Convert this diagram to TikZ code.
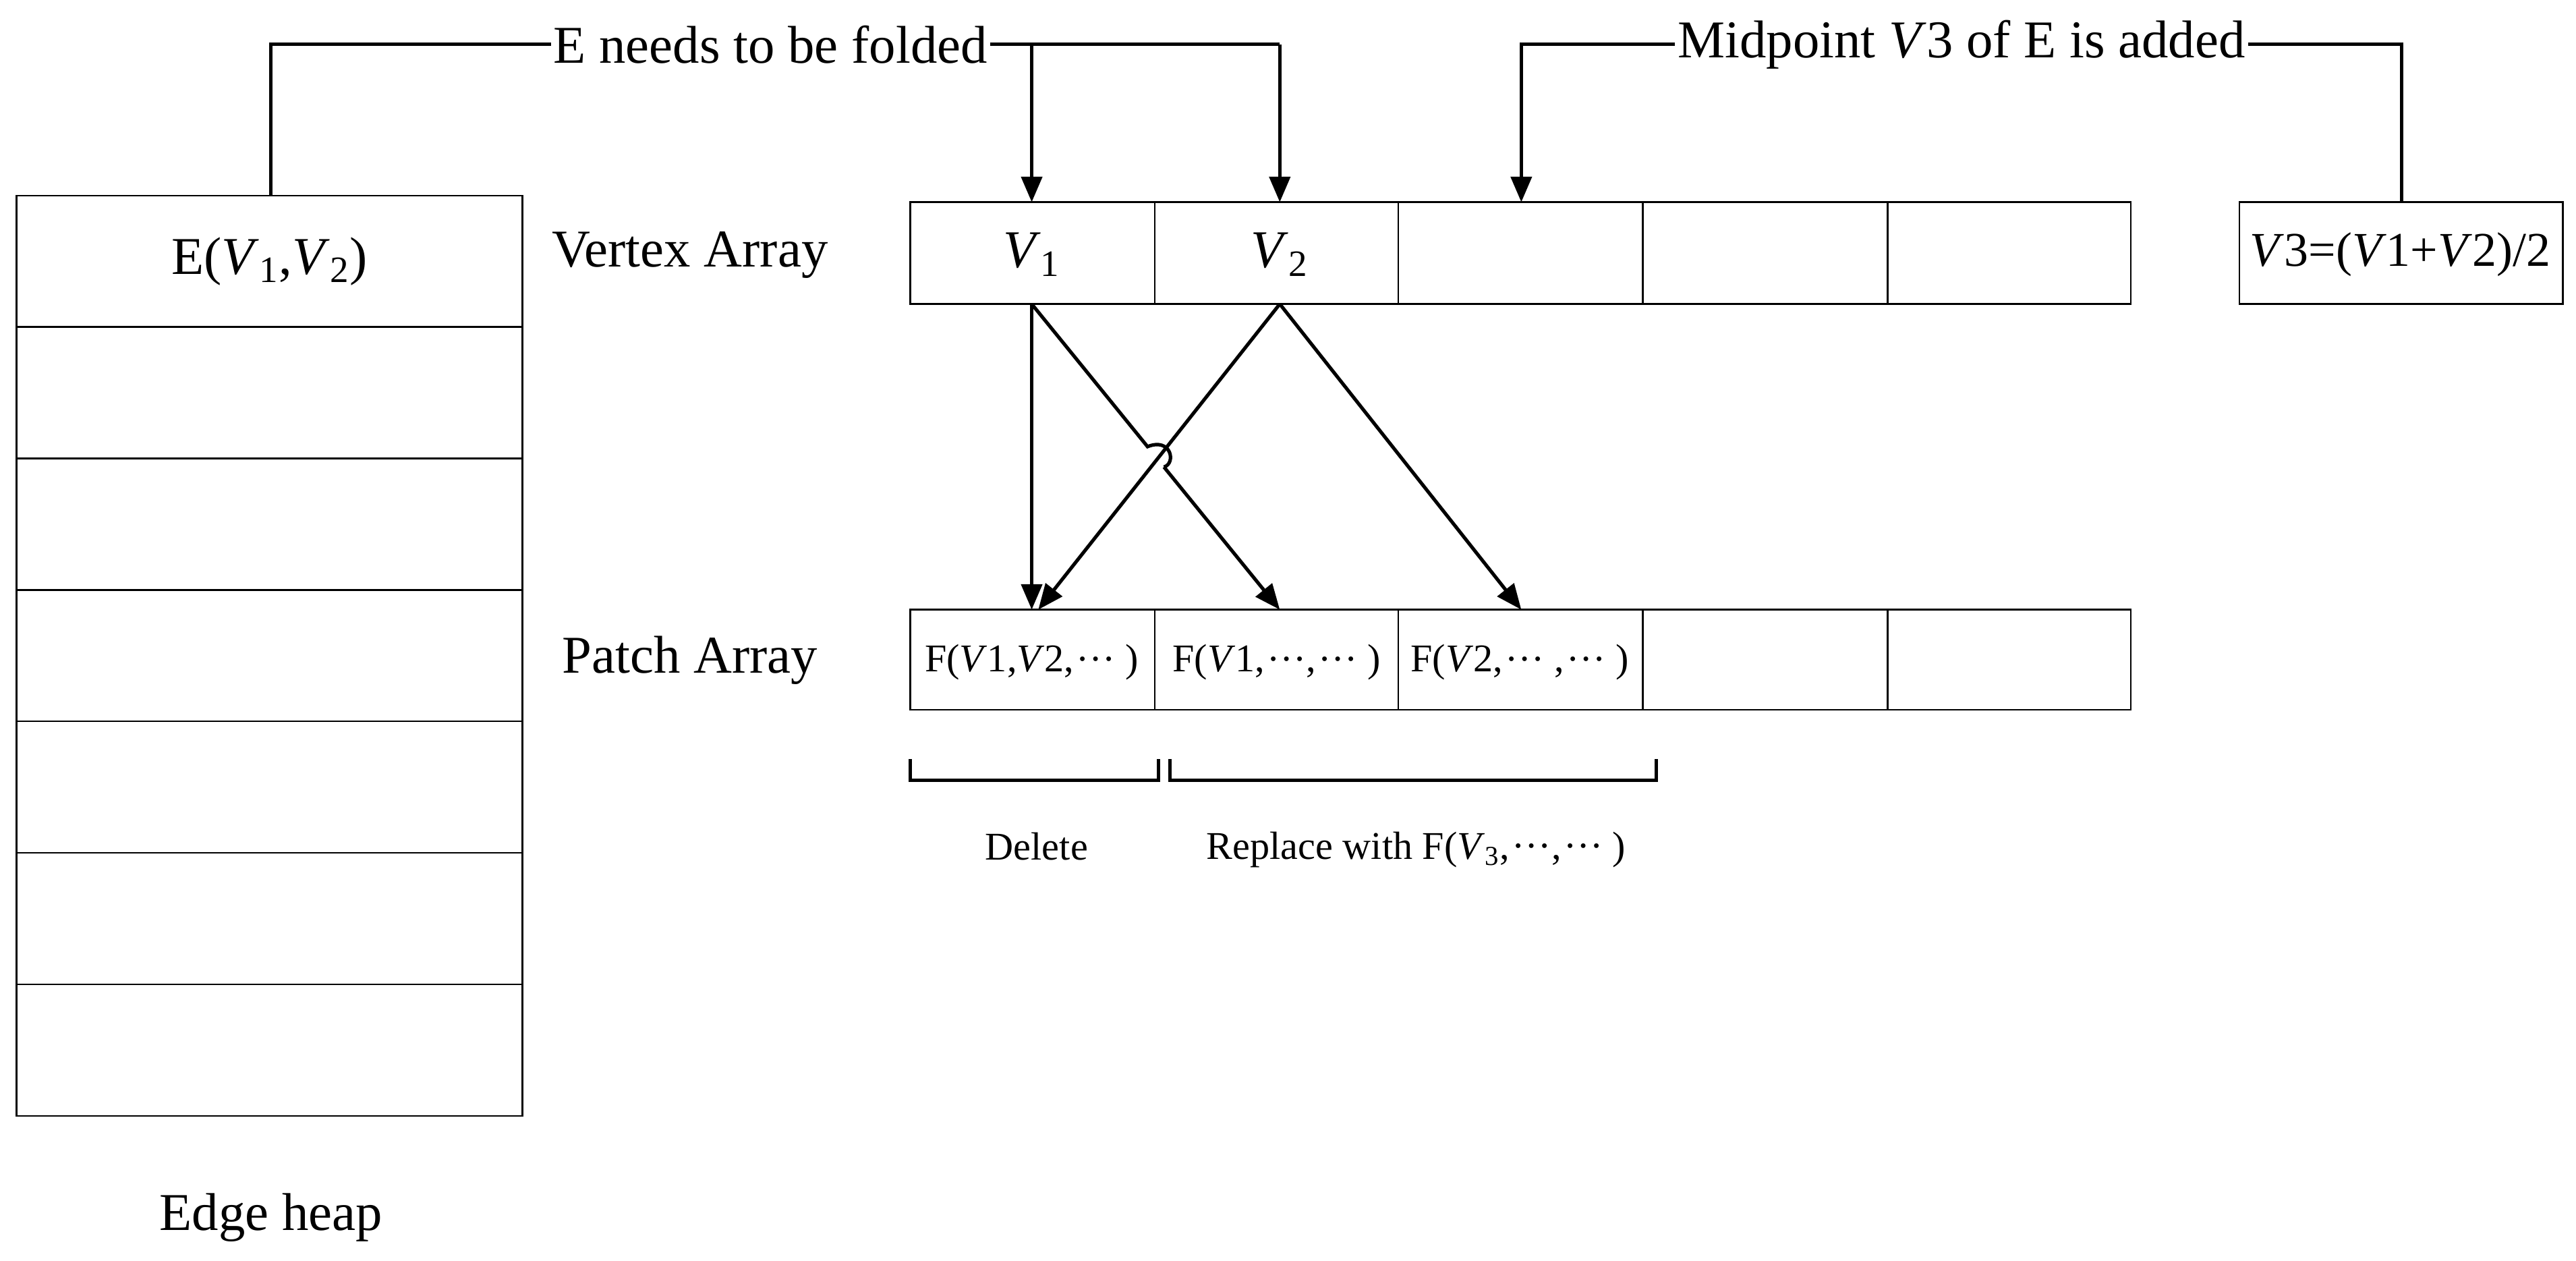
\documentclass[tikz,border=0pt]{standalone}
\usepackage{fontspec}
\setmainfont{Liberation Serif}
\usetikzlibrary{arrows.meta}
\newcommand{\vv}{\textit{V}}
\newcommand{\cd}{\raisebox{0.28em}{\kern1pt…}}
\begin{document}
\begin{tikzpicture}[x=0.025cm,y=-0.025cm,
  box/.style={draw,line width=0.7pt},
  conn/.style={line width=1.5pt},
  arr/.style={conn,-{Triangle[length=11pt,width=9pt]}},
  lbl/.style={font=\fontsize{23}{26}\selectfont,inner sep=1pt},
  sml/.style={font=\fontsize{17}{20}\selectfont,inner sep=1pt}]
\useasboundingbox (0,0) rectangle (1568,767);
% edge heap
\foreach \i/\y in {0/119,1/199,2/279,3/359,4/439,5/519,6/599}{
  \draw[box] (10,\y) rectangle (318,\y+80);}
\node[lbl] (eh1) at (164,159) {E(\vv\textsubscript{1},\vv\textsubscript{2})};
\node[lbl] (eh) at (165,741) {Edge heap};
% arrays
\node[lbl] (va) at (420,155) {Vertex Array};
\node[lbl] (pa) at (420,402) {Patch Array};
\foreach \a/\b/\n in {554/703/1,703/851/2,851/1000/3,1000/1149/4,1149/1297/5}{
  \draw[box] (\a,123) rectangle (\b,185);
  \draw[box] (\a,371) rectangle (\b,432);
}
\coordinate (v1b) at (628,185);
\coordinate (v2b) at (779,185);
\coordinate (p1t) at (628,371);
\coordinate (p1tb) at (632,371);
\coordinate (p2t) at (779,371);
\coordinate (p3t) at (926,371);
\node[lbl] at (628,155) {\vv\textsubscript{1}};
\node[lbl] at (779,155) {\vv\textsubscript{2}};
\node[sml] at (628,403) {F(\vv1,\vv2,\cd\ )};
\node[sml] at (777,403) {F(\vv1,\cd,\cd\ )};
\node[sml] at (925,403) {F(\vv2,\cd\ ,\cd\ )};
% V3 box
\draw[box] (1363,123) rectangle (1560,185);
\node[lbl,font=\fontsize{21}{24}\selectfont] (v3) at (1461,155) {\vv3=(\vv1+\vv2)/2};
\coordinate (v3t) at (1462,123);
\coordinate (v3slot) at (926,123);
% top labels
\node[lbl] (fold) at (469,27) {E needs to be folded};
\node[lbl] (mid) at (1194,27) {Midpoint \vv3 of E is added};
\coordinate (ehtop) at (165,119);
\draw[conn] (ehtop) |- (fold.west);
\draw[conn] (fold.east) -- (779,27);
\draw[arr] (628,27) -- (628,123);
\draw[arr] (779,27) -- (779,123);
\draw[conn] (mid.east) -| (v3t);
\draw[arr] (mid.west) -| (v3slot);
% lower arrows
\draw[arr] (v1b) -- (p1t);
\draw[arr] (v2b) -- (p1tb);
\draw[arr] (v2b) -- (p3t);
\coordinate (j1) at (698.5,271.8);
\coordinate (j2) at (708.5,284.2);
\draw[conn] (v1b) -- (j1) .. controls (713,266) and (716,282) .. (j2);
\draw[arr] (j2) -- (p2t);
% brackets
\draw[conn] (554,462) -- (554,475) -- (705,475) -- (705,462);
\draw[conn] (712,462) -- (712,475) -- (1008,475) -- (1008,462);
\node[sml] (del) at (631,515) {Delete};
\node[sml] (rep) at (862,517) {Replace with F(\vv\textsubscript{3},\cd,\cd\ )};
\end{tikzpicture}
\end{document}
